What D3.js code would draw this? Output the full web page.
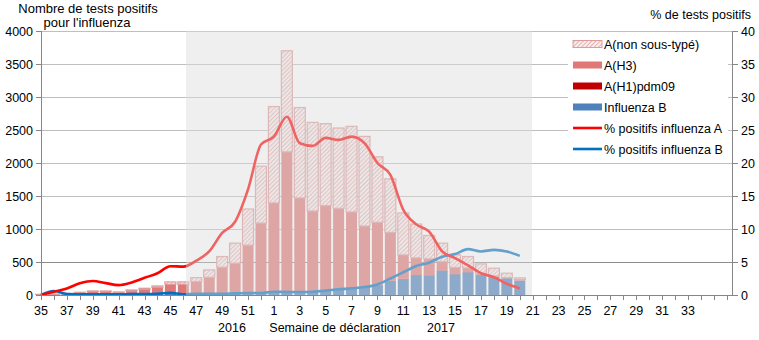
<!DOCTYPE html>
<html>
<head>
<meta charset="utf-8">
<script src="https://cdn.jsdelivr.net/npm/d3@7"></script>
<style>
  html, body { margin: 0; padding: 0; background: #fff; }
  svg { display: block; font-family: "Liberation Sans", Arial, sans-serif; }
</style>
</head>
<body>
<svg id="chart" width="759" height="340"></svg>
<script>
// Season weeks on the axis: week 35 of 2016 through week 36 of 2017
const weeks = [35,36,37,38,39,40,41,42,43,44,45,46,47,48,49,50,51,52,
  1,2,3,4,5,6,7,8,9,10,11,12,13,14,15,16,17,18,19,20,21,22,23,24,25,26,27,28,29,30,31,32,33,34,35,36];

// Weekly positive tests by type (weeks 35/2016 to 20/2017)
const influenzaB = [5,10,8,10,12,10,8,12,15,18,20,15,20,18,20,25,30,35,
  45,50,45,50,70,85,95,117,147,205,235,290,294,370,315,345,309,278,254,218];
const aH1pdm09 = [0,0,0,0,0,0,0,0,1,1,1,1,2,2,2,3,3,4,
  4,5,4,4,4,5,5,6,8,10,12,10,6,5,4,3,3,2,2,2];
const aH3 = [3,2,12,25,40,42,32,48,69,96,141,146,183,249,399,454,723,1051,
  1346,2115,1422,1219,1280,1223,1158,922,945,733,361,263,248,130,97,63,18,9,7,13];
const aNonSubtyped = [2,3,5,6,9,9,6,16,17,22,36,36,58,111,162,304,547,862,
  1460,1530,1369,1343,1242,1217,1297,1358,994,812,635,512,354,281,193,172,141,117,67,26];

// Percent of tests positive
const pctA = [0,0.5,1.0,1.77,2.13,1.8,1.5,1.9,2.6,3.3,4.36,4.3,5.2,6.6,9.4,11.1,16.0,22.8,
  24.0,27.0,23.0,22.6,23.8,23.5,24.0,23.0,20.0,18.2,12.9,10.7,9.6,6.6,5.6,4.5,3.3,2.7,1.7,1.0];
const pctB = [0,0.6,0.15,0.1,0.1,0.1,0.1,0.15,0.15,0.2,0.35,0.1,0.2,0.2,0.2,0.25,0.3,0.3,
  0.5,0.45,0.45,0.5,0.66,0.86,1.0,1.2,1.6,2.5,3.45,4.4,4.9,5.8,6.2,6.95,6.6,6.84,6.6,5.93];

const leftTicks = [0,500,1000,1500,2000,2500,3000,3500,4000];
const rightTicks = [0,5,10,15,20,25,30,35,40];

const seriesKeys = ["B", "H1", "H3", "NS"];
const seriesNames = {NS: "A(non sous-typé)", H3: "A(H3)", H1: "A(H1)pdm09", B: "Influenza B"};
const colors = {B: "#4f81bd", H1: "#c00000", H3: "#e07878", lineA: "#ff0000", lineB: "#0070c0"};

const svg = d3.select("#chart");
const plotLeft = 41, plotRight = 732, plotTop = 31, plotBottom = 295;

const x = d3.scaleLinear().domain([0, weeks.length - 1]).range([41, 726.8]);
const yL = d3.scaleLinear().domain([0, 4000]).range([plotBottom, plotTop]);
const yR = d3.scaleLinear().domain([0, 40]).range([plotBottom, plotTop]);

// hatch for the non-subtyped A bars
const defs = svg.append("defs");
const pat = defs.append("pattern").attr("id", "hatch").attr("patternUnits", "userSpaceOnUse")
  .attr("width", 3).attr("height", 3).attr("patternTransform", "rotate(45)");
pat.append("rect").attr("width", 3).attr("height", 3).attr("fill", "#faeeee");
pat.append("line").attr("x1", 0).attr("y1", 0).attr("x2", 0).attr("y2", 3)
  .attr("stroke", "#d98f8f").attr("stroke-width", 1.3);

// gridlines
svg.append("g").selectAll("line").data(leftTicks.slice(1)).join("line")
  .attr("x1", plotLeft).attr("x2", plotRight)
  .attr("y1", d => yL(d) + 0.5).attr("y2", d => yL(d) + 0.5)
  .attr("stroke", d => d === 500 ? "#8c8c8c" : "#bfbfbf").attr("stroke-width", 1);

// stacked bars
const rows = influenzaB.map((b, i) => ({i, B: b, H1: aH1pdm09[i], H3: aH3[i], NS: aNonSubtyped[i]}));
const stacked = d3.stack().keys(seriesKeys)(rows);
const bw = 11;
const barG = svg.append("g");
stacked.forEach(layer => {
  const k = layer.key;
  barG.append("g").selectAll("rect").data(layer).join("rect")
    .attr("x", d => x(d.data.i) - bw / 2)
    .attr("width", bw)
    .attr("y", d => yL(d[1]))
    .attr("height", d => Math.max(0, yL(d[0]) - yL(d[1])))
    .attr("fill", k === "NS" ? "url(#hatch)" : colors[k])
    .attr("stroke", k === "NS" ? "#dc9c9c" : "none")
    .attr("stroke-width", k === "NS" ? 1.2 : 0);
});

// percent-positive lines
const line = d3.line().x((d, i) => x(i)).y(d => yR(d)).curve(d3.curveMonotoneX);
svg.append("path").datum(pctB).attr("d", line).attr("fill", "none")
  .attr("stroke", colors.lineB).attr("stroke-width", 2.6);
svg.append("path").datum(pctA).attr("d", line).attr("fill", "none")
  .attr("stroke", colors.lineA).attr("stroke-width", 2.6);

// shaded season band (translucent veil over the marks)
svg.append("rect").attr("x", 186).attr("y", plotTop).attr("width", 532 - 186).attr("height", plotBottom - plotTop)
  .attr("fill", "rgb(220,220,220)").attr("fill-opacity", 0.45);

// axes
const axisColor = "#868686";
svg.append("line").attr("x1", plotLeft + 0.5).attr("x2", plotLeft + 0.5).attr("y1", plotTop).attr("y2", plotBottom)
  .attr("stroke", axisColor);
svg.append("line").attr("x1", plotRight + 0.5).attr("x2", plotRight + 0.5).attr("y1", plotTop).attr("y2", plotBottom)
  .attr("stroke", axisColor);
svg.append("line").attr("x1", plotLeft).attr("x2", plotRight + 1).attr("y1", plotBottom + 0.5).attr("y2", plotBottom + 0.5)
  .attr("stroke", axisColor);

// x ticks (every week) and labels (odd weeks)
const xTicks = d3.range(weeks.length);
svg.append("g").selectAll("line").data(xTicks).join("line")
  .attr("x1", d => Math.round(x(d)) + 0.5).attr("x2", d => Math.round(x(d)) + 0.5)
  .attr("y1", plotBottom).attr("y2", plotBottom + 5).attr("stroke", axisColor);
svg.append("g").selectAll("text").data(xTicks.filter(i => i <= 50 && weeks[i] % 2 === 1)).join("text")
  .attr("x", d => x(d)).attr("y", 315).attr("text-anchor", "middle")
  .attr("font-size", 12.5).attr("fill", "#000").text(d => weeks[d]);

// left ticks
svg.append("g").selectAll("line").data(leftTicks).join("line")
  .attr("x1", plotLeft - 5).attr("x2", plotLeft).attr("y1", d => yL(d) + 0.5).attr("y2", d => yL(d) + 0.5)
  .attr("stroke", axisColor);
svg.append("g").selectAll("text").data(leftTicks).join("text")
  .attr("x", 33).attr("y", d => yL(d) + 4.5).attr("text-anchor", "end")
  .attr("font-size", 12.5).attr("fill", "#000").text(d => d);

// right ticks
svg.append("g").selectAll("line").data(rightTicks).join("line")
  .attr("x1", plotRight).attr("x2", plotRight + 6).attr("y1", d => yR(d) + 0.5).attr("y2", d => yR(d) + 0.5)
  .attr("stroke", axisColor);
svg.append("g").selectAll("text").data(rightTicks).join("text")
  .attr("x", 741).attr("y", d => yR(d) + 4.5).attr("text-anchor", "start")
  .attr("font-size", 12.5).attr("fill", "#000").text(d => d);

// axis titles
svg.append("text").attr("x", 88).attr("y", 13).attr("text-anchor", "middle")
  .attr("font-size", 13).text("Nombre de tests positifs");
svg.append("text").attr("x", 87).attr("y", 27).attr("text-anchor", "middle")
  .attr("font-size", 13).text("pour l'influenza");
svg.append("text").attr("x", 751).attr("y", 19).attr("text-anchor", "end")
  .attr("font-size", 12.5).text("% de tests positifs");
svg.append("text").attr("x", 232).attr("y", 332).attr("text-anchor", "middle")
  .attr("font-size", 12.5).text("2016");
svg.append("text").attr("x", 335).attr("y", 332).attr("text-anchor", "middle")
  .attr("font-size", 12.5).text("Semaine de déclaration");
svg.append("text").attr("x", 441).attr("y", 332).attr("text-anchor", "middle")
  .attr("font-size", 12.5).text("2017");

// legend
const lg = svg.append("g");
lg.append("rect").attr("x", 568).attr("y", 32).attr("width", 160).attr("height", 127).attr("fill", "#fff");
const legendItems = [
  {label: seriesNames.NS, fill: "url(#hatch)", stroke: "#dc9c9c", kind: "bar"},
  {label: seriesNames.H3, fill: colors.H3, kind: "bar"},
  {label: seriesNames.H1, fill: colors.H1, kind: "bar"},
  {label: seriesNames.B, fill: colors.B, kind: "bar"},
  {label: "% positifs influenza A", fill: colors.lineA, kind: "line"},
  {label: "% positifs influenza B", fill: colors.lineB, kind: "line"}
];
const legendY = [44, 65, 86, 107, 128, 149];
legendItems.forEach((it, j) => {
  const cy = legendY[j];
  if (it.kind === "bar") {
    lg.append("rect").attr("x", 573).attr("y", cy - 3.5).attr("width", 29).attr("height", 7)
      .attr("fill", it.fill).attr("stroke", it.stroke || "none").attr("stroke-width", it.stroke ? 1 : 0);
  } else {
    lg.append("line").attr("x1", 573).attr("x2", 602).attr("y1", cy).attr("y2", cy)
      .attr("stroke", it.fill).attr("stroke-width", 2.6);
  }
  lg.append("text").attr("x", 604).attr("y", cy + 4.5).attr("font-size", 12.5).text(it.label);
});
</script>
</body>
</html>
